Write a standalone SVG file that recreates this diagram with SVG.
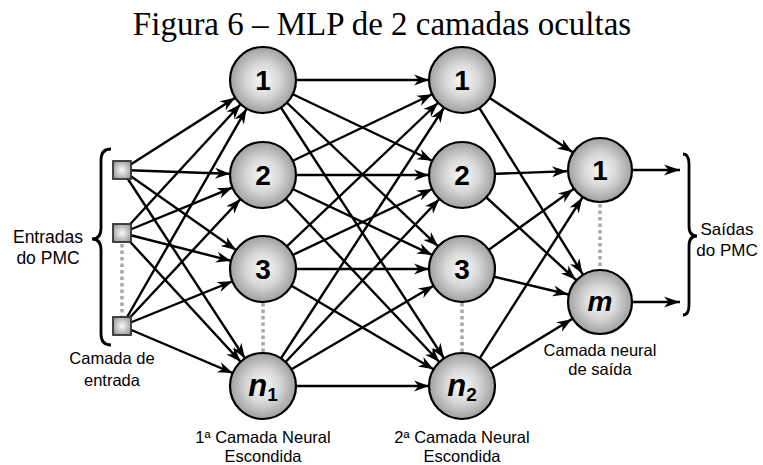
<svg xmlns="http://www.w3.org/2000/svg" width="763" height="465" viewBox="0 0 763 465">
<style>
.ce{stroke:#000;stroke-width:2.4;fill:none;marker-end:url(#ah)}
.co{stroke:#000;stroke-width:2.4;fill:none;marker-end:url(#ao)}
.node{fill:url(#g);stroke:#000;stroke-width:2.2}
.inp{fill:url(#gs);stroke:#333;stroke-width:1.8}
.dot{stroke:#a8a8a8;stroke-width:3.5;stroke-dasharray:3.5 3;fill:none}
.br{stroke:#000;stroke-width:2.8;fill:none}
.lbl{font-family:"Liberation Sans",Arial,sans-serif;font-size:16.5px;fill:#000;text-anchor:middle}
.nl{font-family:"Liberation Sans",Arial,sans-serif;font-weight:bold;font-size:28px;fill:#000;text-anchor:middle}
.ttl{font-family:"Liberation Serif","Times New Roman",serif;font-size:33px;fill:#000;text-anchor:middle}
</style>
<defs>
<radialGradient id="g" cx="0.5" cy="0.5" r="0.5">
<stop offset="0" stop-color="#fafafa"/>
<stop offset="0.5" stop-color="#d8d8d8"/>
<stop offset="1" stop-color="#a0a0a0"/>
</radialGradient>
<radialGradient id="gs" cx="0.5" cy="0.5" r="0.6">
<stop offset="0" stop-color="#fafafa"/>
<stop offset="1" stop-color="#999"/>
</radialGradient>
<marker id="ah" markerUnits="userSpaceOnUse" orient="auto" refX="33" refY="0" markerWidth="60" markerHeight="20" overflow="visible">
<path d="M0,0 L-15,-5.5 L-10.5,0 L-15,5.5 Z" fill="#000"/>
</marker>
<marker id="ao" markerUnits="userSpaceOnUse" orient="auto" refX="0" refY="0" markerWidth="20" markerHeight="20" overflow="visible">
<path d="M0,0 L-16,-5.5 L-11.5,0 L-16,5.5 Z" fill="#000"/>
</marker>
</defs>
<text class="ttl" x="382" y="35">Figura 6 – MLP de 2 camadas ocultas</text>
<g id="connectors">
<line class="ce" x1="122" y1="170" x2="263" y2="80"/>
<line class="ce" x1="122" y1="170" x2="263" y2="175"/>
<line class="ce" x1="122" y1="170" x2="263" y2="269"/>
<line class="ce" x1="122" y1="170" x2="263" y2="386"/>
<line class="ce" x1="122" y1="233" x2="263" y2="80"/>
<line class="ce" x1="122" y1="233" x2="263" y2="175"/>
<line class="ce" x1="122" y1="233" x2="263" y2="269"/>
<line class="ce" x1="122" y1="233" x2="263" y2="386"/>
<line class="ce" x1="122" y1="326" x2="263" y2="80"/>
<line class="ce" x1="122" y1="326" x2="263" y2="175"/>
<line class="ce" x1="122" y1="326" x2="263" y2="269"/>
<line class="ce" x1="122" y1="326" x2="263" y2="386"/>
<line class="ce" x1="263" y1="80" x2="462" y2="80"/>
<line class="ce" x1="263" y1="80" x2="462" y2="175"/>
<line class="ce" x1="263" y1="80" x2="462" y2="269"/>
<line class="ce" x1="263" y1="80" x2="462" y2="386"/>
<line class="ce" x1="263" y1="175" x2="462" y2="80"/>
<line class="ce" x1="263" y1="175" x2="462" y2="175"/>
<line class="ce" x1="263" y1="175" x2="462" y2="269"/>
<line class="ce" x1="263" y1="175" x2="462" y2="386"/>
<line class="ce" x1="263" y1="269" x2="462" y2="80"/>
<line class="ce" x1="263" y1="269" x2="462" y2="175"/>
<line class="ce" x1="263" y1="269" x2="462" y2="269"/>
<line class="ce" x1="263" y1="269" x2="462" y2="386"/>
<line class="ce" x1="263" y1="386" x2="462" y2="80"/>
<line class="ce" x1="263" y1="386" x2="462" y2="175"/>
<line class="ce" x1="263" y1="386" x2="462" y2="269"/>
<line class="ce" x1="263" y1="386" x2="462" y2="386"/>
<line class="ce" x1="462" y1="80" x2="600" y2="170"/>
<line class="ce" x1="462" y1="80" x2="600" y2="302"/>
<line class="ce" x1="462" y1="175" x2="600" y2="170"/>
<line class="ce" x1="462" y1="175" x2="600" y2="302"/>
<line class="ce" x1="462" y1="269" x2="600" y2="170"/>
<line class="ce" x1="462" y1="269" x2="600" y2="302"/>
<line class="ce" x1="462" y1="386" x2="600" y2="170"/>
<line class="ce" x1="462" y1="386" x2="600" y2="302"/>
<line class="co" x1="630" y1="170" x2="680" y2="170"/>
<line class="co" x1="630" y1="302" x2="680" y2="302"/>
</g>
<g id="dots">
<line class="dot" x1="122" y1="244" x2="122" y2="316"/>
<line class="dot" x1="263" y1="303" x2="263" y2="352"/>
<line class="dot" x1="462" y1="303" x2="462" y2="352"/>
<line class="dot" x1="600" y1="204" x2="600" y2="269"/>
</g>
<g id="brace-in">
<path class="br" d="M111,149 Q101,149 101,160 L101,228 Q101,239 92,239 Q101,239 101,250 L101,334 Q101,345 111,345"/>
<text class="lbl" x="48" y="243" style="font-size:17.5px">Entradas</text>
<text class="lbl" x="48" y="264" style="font-size:17.5px">do PMC</text>
</g>
<g id="brace-out">
<path class="br" d="M683,154 Q689,154 689,164 L689,226 Q689,236 697,236 Q689,236 689,246 L689,305 Q689,315 683,315"/>
<text class="lbl" x="727" y="235" style="font-size:17px">Saídas</text>
<text class="lbl" x="727" y="256" style="font-size:17px">do PMC</text>
</g>
<g id="input-1"><rect class="inp" x="113" y="161" width="18" height="18"/></g>
<g id="input-2"><rect class="inp" x="113" y="224" width="18" height="18"/></g>
<g id="input-3"><rect class="inp" x="113" y="317" width="18" height="18"/></g>
<text class="lbl" x="112" y="364">Camada de</text>
<text class="lbl" x="112" y="386">entrada</text>
<g id="h1-1"><circle class="node" cx="263" cy="80" r="33"/><text class="nl" x="263" y="90">1</text></g>
<g id="h1-2"><circle class="node" cx="263" cy="175" r="33"/><text class="nl" x="263" y="185">2</text></g>
<g id="h1-3"><circle class="node" cx="263" cy="269" r="33"/><text class="nl" x="263" y="279">3</text></g>
<g id="h1-n"><circle class="node" cx="263" cy="386" r="33"/><text class="nl" x="263" y="396"><tspan font-style="italic" font-size="31">n</tspan><tspan font-size="19" dy="5">1</tspan></text></g>
<g id="h2-1"><circle class="node" cx="462" cy="80" r="33"/><text class="nl" x="462" y="90">1</text></g>
<g id="h2-2"><circle class="node" cx="462" cy="175" r="33"/><text class="nl" x="462" y="185">2</text></g>
<g id="h2-3"><circle class="node" cx="462" cy="269" r="33"/><text class="nl" x="462" y="279">3</text></g>
<g id="h2-n"><circle class="node" cx="462" cy="386" r="33"/><text class="nl" x="462" y="396"><tspan font-style="italic" font-size="31">n</tspan><tspan font-size="19" dy="5">2</tspan></text></g>
<g id="out-1"><circle class="node" cx="600" cy="170" r="32"/><text class="nl" x="600" y="180">1</text></g>
<g id="out-m"><circle class="node" cx="600" cy="302" r="32"/><text class="nl" x="600" y="311" font-style="italic" font-size="29">m</text></g>
<text class="lbl" x="263" y="443">1ª Camada Neural</text>
<text class="lbl" x="263" y="462">Escondida</text>
<text class="lbl" x="462" y="443">2ª Camada Neural</text>
<text class="lbl" x="462" y="462">Escondida</text>
<text class="lbl" x="600" y="356">Camada neural</text>
<text class="lbl" x="600" y="375">de saída</text>
</svg>
